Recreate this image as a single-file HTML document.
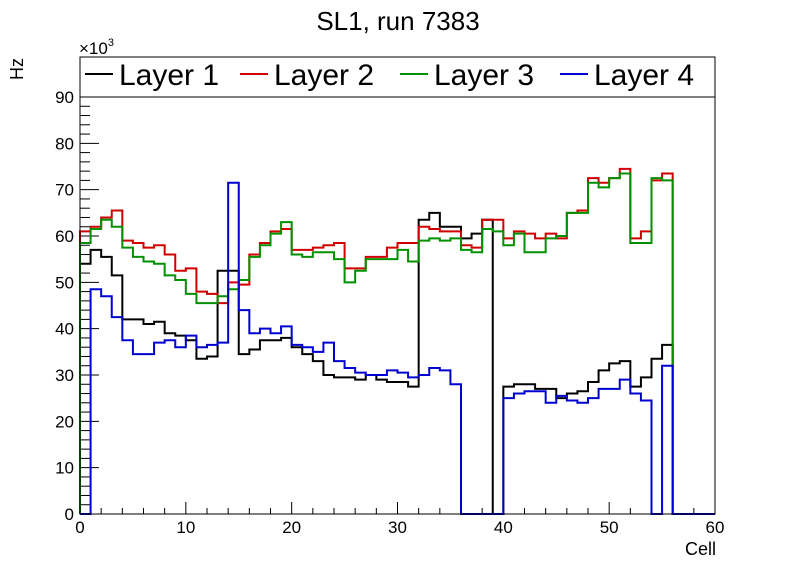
<!DOCTYPE html>
<html><head><meta charset="utf-8"><style>body{margin:0;background:#fff}svg{display:block;font-family:"Liberation Sans",sans-serif}</style></head>
<body>
<svg id="c" width="796" height="572">
<text x="398" y="30" font-size="26" text-anchor="middle">SL1, run 7383</text>
<text transform="translate(23,80) rotate(-90)" font-size="18" text-anchor="start">Hz</text>
<text x="79" y="54" font-size="17">×10<tspan dy="-8" font-size="11">3</tspan></text>
<text x="716" y="555" font-size="18" text-anchor="end">Cell</text>
<g id="axes"></g><g id="series"></g>
<rect x="80" y="57" width="635" height="457" fill="none" stroke="#000" stroke-width="1"/>
<g>
<rect x="80" y="57" width="635" height="40" fill="#fff" stroke="#000" stroke-width="1"/>
<g><line x1="85" y1="74" x2="113" y2="74" stroke="#000" stroke-width="2"/><text x="119" y="85" font-size="30">Layer 1</text></g>
<g><line x1="240" y1="74" x2="268" y2="74" stroke="#d00000" stroke-width="2"/><text x="274" y="85" font-size="30">Layer 2</text></g>
<g><line x1="400" y1="74" x2="428" y2="74" stroke="#009000" stroke-width="2"/><text x="434" y="85" font-size="30">Layer 3</text></g>
<g><line x1="560" y1="74" x2="588" y2="74" stroke="#0000d0" stroke-width="2"/><text x="594" y="85" font-size="30">Layer 4</text></g>
</g>
</svg>
<script>
const layer1=[54,57,55.5,51.5,42,42,41,41.5,39,38.5,37.5,33.5,34,52.5,52.5,34.5,35.5,37.5,37.5,38,36,34.5,33,30,29.5,29.5,29,30,29,28.5,28.5,27.5,63.5,65,62,62,59.5,60.5,63.5,0,27.5,28,28,27,27,25,26,26.5,28.5,31,32.5,33,27.5,29.5,33.5,36.5,0,0,0,0];
const layer2=[61,62,64,65.5,59,58.5,57.5,58,56,52.5,53,48,47.5,45.5,50,49.5,56,58.5,61,61.5,57,57,57.5,58,58.5,53,53,55.5,55.5,57.5,58.5,58.5,62,61.5,61,61,58,57.5,63.5,63.5,59.5,61,60.5,59.5,60.5,59.5,65,65.5,72.5,71.5,72.5,74.5,59.5,61,72,73.5,0,0,0,0];
const layer3=[58.5,61.5,63.5,62,57.5,55.5,54.5,54,51.5,50.5,47.5,45.5,45.5,47,48.5,50.5,55.5,58,60.5,63,56,55.5,56.5,56.5,55,50,52.5,55,55,55,57,54.5,59,59.5,59,59.5,57,56.5,61.5,61,58,60.5,56.5,56.5,59.5,60,65,65,71.5,70.5,72.5,73.5,58.5,58.5,72.5,72,0,0,0,0];
const layer4=[0,48.5,47,42.5,37.5,34.5,34.5,37,37.5,36,38.5,36,36.5,37,71.5,44,39,40,39,40.5,36.5,36,35,37,33,31.5,30.5,30,30,31,30.5,29.5,30,31.5,31,28,0,0,0,0,25,26,26.5,26.5,24,25.5,24.5,24,25,27,27,29,26,24.5,0,32,0,0,0,0];
const xTicks=[0,10,20,30,40,50,60];
const yTicks=[0,10,20,30,40,50,60,70,80,90];
const X=v=>80+v*635/60, Y=v=>514-v*(417/90);
const NS="http://www.w3.org/2000/svg";
const ax=document.getElementById('axes'), sg=document.getElementById('series');
function mk(tag,attrs,parent){const e=document.createElementNS(NS,tag);for(const k in attrs)e.setAttribute(k,attrs[k]);parent.appendChild(e);return e;}
for(let v=0;v<=98;v+=2){const maj=v%10===0;const t=mk('line',{x1:80,x2:80+(maj?19:10),y1:Y(v),y2:Y(v),stroke:'#000','stroke-width':1},ax);

}
for(let v=0;v<=60;v+=2){const maj=v%10===0;const t=mk('line',{x1:X(v),x2:X(v),y1:514,y2:514-(maj?12:6),stroke:'#000','stroke-width':1},ax);

}
yTicks.forEach(v=>{const t=mk('text',{x:74,y:Y(v)+6,'font-size':17,'text-anchor':'end'},ax);t.textContent=v;

});
xTicks.forEach(v=>{const t=mk('text',{x:X(v),y:533,'font-size':17,'text-anchor':'middle'},ax);t.textContent=v;

});
function step(vals,color,name){let d='M'+X(0)+','+Y(0);vals.forEach((v,i)=>{d+=' L'+X(i)+','+Y(v)+' L'+X(i+1)+','+Y(v);});d+=' L'+X(vals.length)+','+Y(0);
const p=mk('path',{d:d,fill:'none',stroke:color,'stroke-width':2},sg);

}
step(layer1,'#000','series-layer-1');
step(layer2,'#d00000','series-layer-2');
step(layer3,'#009000','series-layer-3');
step(layer4,'#0000d0','series-layer-4');
</script>
</body></html>
